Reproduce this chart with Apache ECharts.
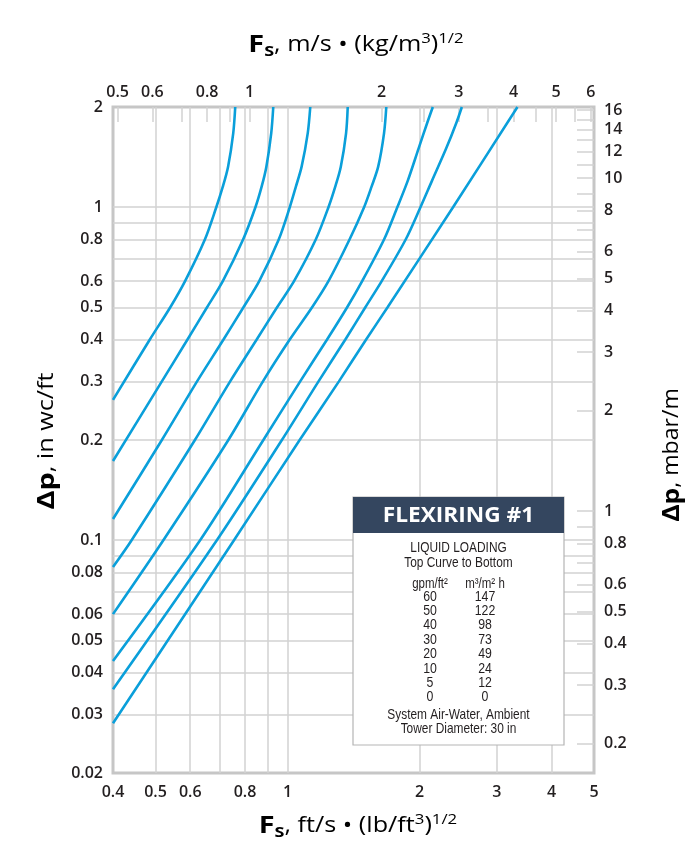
<!DOCTYPE html>
<html><head><meta charset="utf-8">
<script src="https://cdn.jsdelivr.net/npm/echarts@6/dist/echarts.min.js"></script>
<style>html,body{margin:0;padding:0;background:#fff}#c{width:698px;height:867px}</style>
</head><body><div id="c"></div>
<script>
// ---- axis ranges & ticks ----
const fsRange = [0.4, 5];            // ft/s (lb/ft3)^0.5
const dpRange = [0.02, 2];           // in wc/ft
const FS_SI = 1.2199;                // m/s (kg/m3)^0.5 per ft/s (lb/ft3)^0.5
const DP_SI = 8.172;                 // mbar/m per in wc/ft

const fsBottomLabels = [0.4, 0.5, 0.6, 0.8, 1, 2, 3, 4, 5];
const fsBottomGrid   = [0.5, 0.6, 0.7, 0.8, 0.9, 1, 2, 3, 4];
const fsTopLabels    = [0.5, 0.6, 0.8, 1, 2, 3, 4, 5, 6];
const fsTopTicks     = [0.5, 0.6, 0.7, 0.8, 0.9, 1, 2, 2.5, 3, 3.5, 4, 4.5, 5, 5.5, 6];
const dpLeftLabels   = [0.02, 0.03, 0.04, 0.05, 0.06, 0.08, 0.1, 0.2, 0.3, 0.4, 0.5, 0.6, 0.8, 1, 2];
const dpLeftGrid     = [0.03, 0.04, 0.05, 0.06, 0.07, 0.08, 0.09, 0.1, 0.2, 0.3, 0.4, 0.5, 0.6, 0.7, 0.8, 0.9, 1];
const dpRightLabels  = [0.2, 0.3, 0.4, 0.5, 0.6, 0.8, 1, 2, 3, 4, 5, 6, 8, 10, 12, 14, 16];
const dpRightTicks   = [0.2, 0.3, 0.4, 0.5, 0.6, 0.7, 0.8, 0.9, 1, 2, 3, 4, 5, 6, 7, 8, 9, 10, 11, 12, 13, 14, 15, 16];

// ---- legend table ----
const loadGpm = ['60', '50', '40', '30', '20', '10', '5', '0'];
const loadM3  = ['147', '122', '98', '73', '49', '24', '12', '0'];

// ---- curves: [Fs (ft/s (lb/ft3)^0.5), dp (in wc/ft)] ----
const curve60 = [[0.40,0.264],[0.485,0.40],[0.540,0.50],[0.584,0.60],[0.648,0.80],[0.688,1.00],[0.712,1.153],[0.732,1.324],[0.752,1.667],[0.760,2.0]];
const curve50 = [[0.40,0.173],[0.517,0.30],[0.591,0.40],[0.655,0.50],[0.712,0.60],[0.792,0.80],[0.845,1.00],[0.873,1.153],[0.895,1.324],[0.918,1.667],[0.928,2.0]];
const curve40 = [[0.40,0.1158],[0.517,0.20],[0.622,0.30],[0.714,0.40],[0.793,0.50],[0.862,0.60],[0.955,0.80],[1.012,1.00],[1.045,1.153],[1.077,1.324],[1.112,1.667],[1.127,2.0]];
const curve30 = [[0.40,0.0831],[0.441,0.10],[0.615,0.20],[0.740,0.30],[0.850,0.40],[0.946,0.50],[1.035,0.60],[1.160,0.80],[1.240,1.00],[1.285,1.153],[1.323,1.324],[1.360,1.667],[1.372,2.0]];
const curve20 = [[0.40,0.060],[0.521,0.10],[0.733,0.20],[0.879,0.30],[1.011,0.40],[1.137,0.50],[1.240,0.60],[1.385,0.80],[1.495,1.00],[1.555,1.153],[1.610,1.324],[1.660,1.667],[1.680,2.0]];
const curve10 = [[0.40,0.0434],[0.632,0.10],[0.881,0.20],[1.069,0.30],[1.230,0.40],[1.367,0.50],[1.480,0.60],[1.660,0.80],[1.780,1.00],[1.880,1.20],[1.990,1.50],[2.085,1.80],[2.145,2.0]];
const curve5  = [[0.40,0.0357],[0.690,0.10],[0.971,0.20],[1.177,0.30],[1.354,0.40],[1.504,0.50],[1.640,0.60],[1.860,0.80],[2.010,1.00],[2.135,1.20],[2.300,1.50],[2.430,1.80],[2.498,2.0]];
const curve0  = [[0.40,0.0282],[0.755,0.10],[1.066,0.20],[1.310,0.30],[1.510,0.40],[1.690,0.50],[2.385,1.00],[3.345,2.0]];
const curves = [curve60, curve50, curve40, curve30, curve20, curve10, curve5, curve0];

const lineColor = '#0a9fda';
const textDark = '#231f20';
const gridColor = '#d2d2d2';
const frameColor = '#c6c6c6';
const tickFont = { color: textDark, fontSize: 16, fontWeight: 600, fontFamily: 'Open Sans' };
function fmt(v) { return String(parseFloat(Number(v).toPrecision(6))); }

const chart = echarts.init(document.getElementById('c'), null, { renderer: 'canvas' });

const titleRich = {
  b: { fontFamily: 'Open Sans', fontWeight: 700, fontSize: 24, color: textDark, lineHeight: 30 },
  s: { fontFamily: 'Open Sans', fontWeight: 700, fontSize: 15, color: textDark, lineHeight: 15, padding: [14, 0, 0, 0] },
  r: { fontFamily: 'Open Sans', fontWeight: 400, fontSize: 21, color: textDark, lineHeight: 30 },
  sup: { fontFamily: 'Open Sans', fontWeight: 400, fontSize: 14, color: textDark, lineHeight: 15, padding: [0, 0, 12, 0] }
};

const boxX = 353, boxY = 497, boxW = 211, headH = 36, boxH = 248;
const colA = 77, colB = 132;
const legendFont = '"Liberation Sans", Arial, sans-serif';
const narrow = 0.82;
function ltext(x, y, t, size) {
  return { type: 'text', x: x, y: y, scaleX: narrow, z: 101, style: { text: t, fill: textDark, fontSize: size, fontFamily: legendFont, align: 'center', verticalAlign: 'middle', textAlign: 'center', textVerticalAlign: 'middle' } };
}
const legendChildren = [
  { type: 'rect', z: 100, shape: { x: 0, y: 0, width: boxW, height: boxH }, style: { fill: '#fff', stroke: '#b5b5b5', lineWidth: 1.2 } },
  { type: 'rect', z: 100, shape: { x: 0, y: 0, width: boxW, height: headH }, style: { fill: '#34465f' } },
  { type: 'text', z: 101, x: boxW / 2, y: headH / 2 + 1, scaleX: 1.08, style: { text: 'FLEXIRING #1', fill: '#fff', fontSize: 21, fontWeight: 700, fontFamily: 'Open Sans', align: 'center', verticalAlign: 'middle', textAlign: 'center', textVerticalAlign: 'middle' } },
  ltext(boxW / 2, 51.3, 'LIQUID LOADING', 14.5),
  ltext(boxW / 2, 65.7, 'Top Curve to Bottom', 14.5),
  ltext(colA, 87.5, 'gpm/ft²', 14),
  ltext(colB, 87.5, 'm³/m² h', 14),
  ltext(boxW / 2, 218, 'System Air-Water, Ambient', 14.5),
  ltext(boxW / 2, 231.5, 'Tower Diameter: 30 in', 14.5)
];
loadGpm.forEach((g, i) => {
  const y = 99.5 + i * 14.4;
  legendChildren.push(ltext(colA, y, g, 15));
  legendChildren.push(ltext(colB, y, loadM3[i], 15));
});

function titleText(x, y, rot, stretch, txt) {
  return { type: 'text', x: x, y: y, rotation: rot, scaleX: stretch, z: 100,
    style: { text: txt, rich: titleRich, align: 'center', verticalAlign: 'middle', textAlign: 'center', textVerticalAlign: 'middle' } };
}

const option = {
  animation: false,
  backgroundColor: '#fff',
  grid: { left: 113, right: 104, top: 107, bottom: 94, show: true, borderColor: frameColor, borderWidth: 3, backgroundColor: '#fff', containLabel: false },
  xAxis: [
    {
      type: 'log', logBase: 10, min: fsRange[0], max: fsRange[1], position: 'bottom',
      axisLine: { show: false },
      axisTick: { show: false, customValues: fsBottomGrid },
      splitLine: { show: true, lineStyle: { color: gridColor, width: 1.5 } },
      axisLabel: Object.assign({ customValues: fsBottomLabels, formatter: fmt, margin: 11, showMinLabel: true, showMaxLabel: true }, tickFont)
    },
    {
      type: 'log', logBase: 10, min: fsRange[0] * FS_SI, max: fsRange[1] * FS_SI, position: 'top',
      axisLine: { show: false },
      axisTick: { show: true, inside: true, length: 15, customValues: fsTopTicks, lineStyle: { color: gridColor, width: 1.5 } },
      splitLine: { show: false },
      axisLabel: Object.assign({ customValues: fsTopLabels, formatter: fmt, margin: 7, showMinLabel: true, showMaxLabel: true }, tickFont)
    }
  ],
  yAxis: [
    {
      type: 'log', logBase: 10, min: dpRange[0], max: dpRange[1], position: 'left',
      axisLine: { show: false },
      axisTick: { show: false, customValues: dpLeftGrid },
      splitLine: { show: true, lineStyle: { color: gridColor, width: 1.5 } },
      axisLabel: Object.assign({ customValues: dpLeftLabels, formatter: fmt, margin: 10, showMinLabel: true, showMaxLabel: true }, tickFont)
    },
    {
      type: 'log', logBase: 10, min: dpRange[0] * DP_SI, max: dpRange[1] * DP_SI, position: 'right',
      axisLine: { show: false },
      axisTick: { show: true, inside: true, length: 17, customValues: dpRightTicks, lineStyle: { color: gridColor, width: 1.5 } },
      splitLine: { show: false },
      axisLabel: Object.assign({ customValues: dpRightLabels, formatter: fmt, margin: 10, showMinLabel: true, showMaxLabel: true }, tickFont)
    }
  ],
  series: curves.map((d, i) => ({
    name: loadGpm[i] + ' gpm/ft²', type: 'line', xAxisIndex: 0, yAxisIndex: 0, data: d,
    smooth: 0.3, symbol: 'none', silent: true, clip: true, z: 3,
    lineStyle: { color: lineColor, width: 2.6 }
  })),
  graphic: [
    titleText(356, 45, 0, 1.2, '{b|F}{s|S}{r|, m/s • (kg/m}{sup|3}{r|)}{sup|1/2}'),
    titleText(358, 826, 0, 1.2, '{b|F}{s|S}{r|, ft/s • (lb/ft}{sup|3}{r|)}{sup|1/2}'),
    titleText(47, 441, Math.PI / 2, 1.2, '{b|Δp}{r|, in wc/ft}'),
    titleText(672, 455, Math.PI / 2, 1.1, '{b|Δp}{r|, mbar/m}'),
    { type: 'group', x: boxX, y: boxY, z: 100, children: legendChildren }
  ]
};
chart.setOption(option);
</script>
</body></html>
